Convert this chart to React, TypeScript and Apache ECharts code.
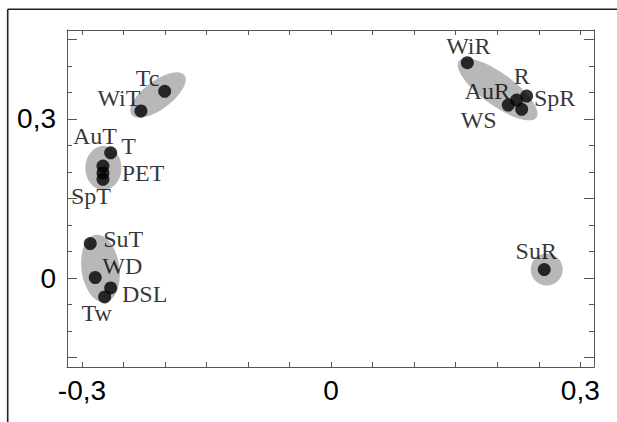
import React, { useEffect, useRef } from "react";
import * as echarts from "echarts";

// ---- data ----
const pointNames = ["WiR", "R", "AuR", "SpR", "WS", "SuR", "Tc", "WiT", "AuT", "T", "PET", "SpT", "SuT", "WD", "DSL", "Tw"];
const pointX = [0.164, 0.2234, 0.2133, 0.2354, 0.2294, 0.2566, -0.2004, -0.229, -0.2747, -0.2654, -0.2747, -0.2747, -0.29, -0.284, -0.2654, -0.2727];
const pointY = [0.406, 0.3355, 0.326, 0.343, 0.318, 0.016, 0.352, 0.315, 0.211, 0.236, 0.198, 0.186, 0.065, 0.001, -0.0187, -0.0357];

const groupX = [-0.2084, -0.2742, -0.2777, 0.2005, 0.2596];
const groupY = [0.345, 0.2072, 0.0179, 0.3558, 0.0162];

const xTicks = [-0.3, -0.25, -0.2, -0.15, -0.1, -0.05, 0, 0.05, 0.1, 0.15, 0.2, 0.25, 0.3];
const xLabels = [-0.3, 0, 0.3];
const yTicksMinor = [-0.1, -0.05, 0.05, 0.1, 0.2, 0.25, 0.35, 0.4];
const yTicksMajor = [-0.15, 0, 0.15, 0.3, 0.45];
const yLabels = [0, 0.3];

// ---- styles (label offsets, ellipse shapes) ----
const labelOffsets: number[][] = [
  [1, -17], [5, -24], [-21, -14], [28, 2], [-43, 11], [-8, -19],
  [-17, -13], [-22, -13], [-8, -30], [18, -7], [40, 0], [-12, 17],
  [33, -5], [27, -11], [34, 6], [-8, 16],
];
const ellipseShapes = [
  { rx: 33, ry: 14, rot: 37 },
  { rx: 18, ry: 22, rot: 0 },
  { rx: 19, ry: 34, rot: 8 },
  { rx: 48, ry: 16, rot: -36 },
  { rx: 16, ry: 16, rot: 0 },
];

const X_MIN = -0.318, X_MAX = 0.3165;
const Y_MIN = -0.1677, Y_MAX = 0.4675;
const AXIS_COLOR = "#555";

const fmt = (v: number) => {
  const r = Math.round(v * 100) / 100;
  return r === 0 ? "0" : String(r).replace(".", ",");
};

export default function App() {
  const ref = useRef<HTMLDivElement>(null);
  useEffect(() => {
    if (!ref.current) return;
    const chart = echarts.init(ref.current, null, { renderer: "svg" });

    const xAxisBase = (position: "bottom" | "top", labels: boolean) => ({
      type: "value",
      gridIndex: 0,
      position,
      min: X_MIN,
      max: X_MAX,
      splitLine: { show: false },
      axisLine: { show: true, onZero: false, lineStyle: { color: AXIS_COLOR, width: 1 } },
      axisTick: { show: true, inside: true, length: 5, customValues: xTicks, lineStyle: { color: AXIS_COLOR } },
      axisLabel: labels
        ? { show: true, customValues: xLabels, formatter: fmt, fontSize: 28, fontFamily: "Liberation Sans", color: "#000", margin: 9 }
        : { show: false },
    });
    const yAxisBase = (position: "left" | "right", line: boolean, ticks: number[], len: number, labels: boolean) => ({
      type: "value",
      gridIndex: 0,
      position,
      min: Y_MIN,
      max: Y_MAX,
      splitLine: { show: false },
      axisLine: { show: line, onZero: false, lineStyle: { color: AXIS_COLOR, width: 1 } },
      axisTick: { show: true, inside: true, length: len, customValues: ticks, lineStyle: { color: AXIS_COLOR } },
      axisLabel: labels
        ? { show: true, customValues: yLabels, formatter: fmt, fontSize: 28, fontFamily: "Liberation Sans", color: "#000", margin: 11 }
        : { show: false },
    });

    chart.setOption({
      animation: false,
      grid: { left: 67, top: 30, width: 527, height: 337, containLabel: false, outerBoundsMode: "none" },
      xAxis: [xAxisBase("bottom", true), xAxisBase("top", false)],
      yAxis: [
        yAxisBase("left", true, yTicksMajor, 10, true),
        yAxisBase("left", false, yTicksMinor, 5, false),
        yAxisBase("right", true, yTicksMajor, 10, false),
        yAxisBase("right", false, yTicksMinor, 5, false),
      ],
      graphic: [
        { type: "line", shape: { x1: 7.7, y1: 9.3, x2: 617, y2: 9.3 }, style: { stroke: "#222", lineWidth: 1.6 } },
        { type: "line", shape: { x1: 7.7, y1: 9.3, x2: 7.7, y2: 422 }, style: { stroke: "#222", lineWidth: 1.6 } },
      ],
      series: [
        {
          type: "custom",
          xAxisIndex: 0,
          yAxisIndex: 0,
          z: 1,
          silent: true,
          data: groupX.map((x, i) => [x, groupY[i]]),
          renderItem: (params: any, api: any) => {
            const c = api.coord([api.value(0), api.value(1)]);
            const s = ellipseShapes[params.dataIndex];
            return {
              type: "ellipse",
              x: c[0],
              y: c[1],
              rotation: (s.rot * Math.PI) / 180,
              shape: { cx: 0, cy: 0, rx: s.rx, ry: s.ry },
              style: { fill: "#b8b8b8" },
            };
          },
        },
        {
          type: "scatter",
          xAxisIndex: 0,
          yAxisIndex: 0,
          z: 3,
          symbol: "circle",
          symbolSize: 13,
          itemStyle: { color: "#000" },
          label: {
            show: true,
            position: "inside",
            formatter: "{b}",
            color: "#000",
            fontFamily: "Liberation Serif",
            fontSize: 24,
            lineHeight: 19,
          },
          data: pointNames.map((n, i) => ({
            name: n,
            value: [pointX[i], pointY[i]],
            label: { offset: labelOffsets[i] },
          })),
        },
      ],
    });
    return () => chart.dispose();
  }, []);
  return (
    <div style={{ position: "fixed", left: 0, top: 0, width: 617, height: 422, background: "#fff" }}>
      <div ref={ref} style={{ width: 617, height: 422 }} />
    </div>
  );
}
